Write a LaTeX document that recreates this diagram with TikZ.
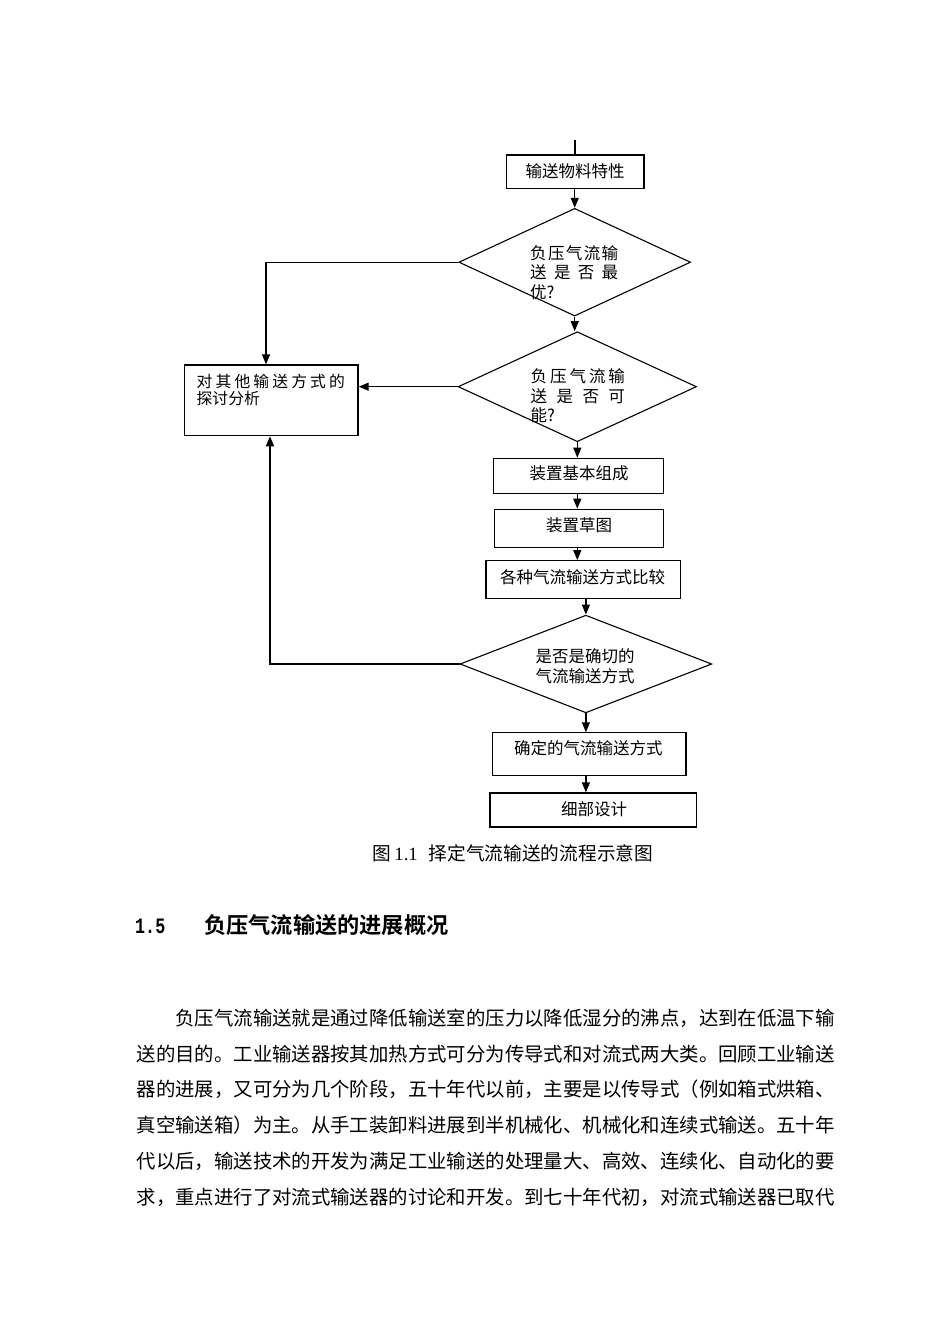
\documentclass[tikz,border=0pt]{standalone}
\usepackage{fontspec}
\setmainfont{Noto Sans CJK SC}[BoldFont={Noto Sans CJK SC Bold}]
\newfontfamily\numserif{Liberation Serif}
\newfontfamily\nummono{Liberation Mono}
\usetikzlibrary{shapes.geometric,arrows.meta}

\begin{document}
\begin{tikzpicture}[x=1pt,y=-1pt,
	box/.style 2 args={draw,line width=1.2pt,inner sep=0pt,minimum width=#1,minimum height=#2},
	choice/.style 2 args={draw,shape=diamond,line width=1.1pt,inner sep=0pt,minimum width=#1,minimum height=#2},
	label/.style={inner sep=0pt,font=\fontsize{16.5}{19.5}\selectfont},
	line/.style={line width=1.2pt},
	arr/.style={line width=1.2pt,-{Triangle[length=10pt,width=8pt]}},
	bodytext/.style={anchor=west,inner sep=0pt,font=\fontsize{19.39}{20}\selectfont}]
	\useasboundingbox (0,0) rectangle (950,1344);
	\node[box={137.3}{33.3}] (feed) at (575.3,171.7) {};
	\node[choice={231.7}{107.7}] (best) at (574.7,262.2) {};
	\node[choice={238.4}{110}] (able) at (577.3,386.7) {};
	\node[box={173.7}{70.7}] (other) at (271.2,400.3) {};
	\node[box={170}{35}] (parts) at (578.3,475.8) {};
	\node[box={169}{38}] (sketch) at (578.8,528.3) {};
	\node[box={194.7}{38}] (compare) at (583.4,579.7) {};
	\node[choice={251.7}{97.7}] (exact) at (585.9,664) {};
	\node[box={193.7}{42.3}] (chosen) at (589.2,754) {};
	\node[box={206.7}{34}] (detail) at (593.4,810) {};
	\node[label] (feedtxt) at (575,171.5) {输送物料特性};
	\node[label,align=left] (besttxt) at (574.2,272.3) {\makebox[88pt][s]{负\hfill 压\hfill 气\hfill 流\hfill 输}\\
		\makebox[88pt][s]{送\hfill 是\hfill 否\hfill 最}\\优?};
	\node[label,align=left] (abletxt) at (577.8,396) {\makebox[94.3pt][s]{负\hfill 压\hfill 气\hfill 流\hfill 输}\\
		\makebox[94.3pt][s]{送\hfill 是\hfill 否\hfill 可}\\能?};
	\node[label,align=left,font=\fontsize{15.8}{16.4}\selectfont] (othertxt) at (270.8,390) {\makebox[148.3pt][s]{对\hfill 其\hfill 他\hfill 输\hfill 送\hfill 方\hfill 式\hfill 的}\\探讨分析};
	\node[label] (partstxt) at (579,473.3) {装置基本组成};
	\node[label] (sketchtxt) at (579,525) {装置草图};
	\node[label] (comparetxt) at (582.5,576.7) {各种气流输送方式比较};
	\node[label,align=center,font=\fontsize{16.5}{20}\selectfont] (exacttxt) at (585,666.7) {是否是确切的\\气流输送方式};
	\node[label] (chosentxt) at (588.3,748.3) {确定的气流输送方式};
	\node[label] (detailtxt) at (594,809.3) {细部设计};
	\coordinate (entry) at (575,140);
	\draw[line] (entry) -- (entry |- feed.north);
	\draw[arr] (feed.south -| best.north) -- (best.north);
	\draw[arr] (best.south) -- (best.south |- able.north);
	\draw[arr] (able.south) -- (able.south |- parts.north);
	\draw[arr] (able.south |- parts.south) -- (able.south |- sketch.north);
	\draw[arr] (able.south |- sketch.south) -- (able.south |- compare.north);
	\draw[arr] (exact.north |- compare.south) -- (exact.north);
	\draw[arr] (exact.south) -- (exact.south |- chosen.north);
	\draw[arr] (exact.south |- chosen.south) -- (exact.south |- detail.north);
	\draw[arr] (best.west) -| ([xshift=-5.2pt]other.north);
	\draw[arr] (able.west) -- (other.east |- able.west);
	\draw[arr] (exact.west) -| ([xshift=-1.2pt]other.south);
	\node[anchor=west,inner sep=0pt,font=\fontsize{18.7}{20}\selectfont] (caption) at (372,853) {图\hspace{3.5pt}{\numserif 1.1}\hspace{11pt}择定气流输送的流程示意图};
	\node[anchor=west,inner sep=0pt,font=\nummono\bfseries\fontsize{22}{24}\selectfont] (secnum) at (135,926) {\scalebox{0.76}[1]{1.5}};
	\node[anchor=west,inner sep=0pt,font=\bfseries\fontsize{22.2}{24}\selectfont] (sectitle) at (204,925) {负压气流输送的进展概况};
	\foreach \txt [count=\i] in {\hspace{2em}负压气流输送就是通过降低输送室的压力以降低湿分的沸点，达到在低温下输,
		送的目的。工业输送器按其加热方式可分为传导式和对流式两大类。回顾工业输送,
		器的进展，又可分为几个阶段，五十年代以前，主要是以传导式（例如箱式烘箱、,
		真空输送箱）为主。从手工装卸料进展到半机械化、机械化和连续式输送。五十年,
		代以后，输送技术的开发为满足工业输送的处理量大、高效、连续化、自动化的要,
		求，重点进行了对流式输送器的讨论和开发。到七十年代初，对流式输送器已取代}
		\node[bodytext] (line\i) at (136.5,1018+35.8*\i-35.8) {\txt};
\end{tikzpicture}
\end{document}
